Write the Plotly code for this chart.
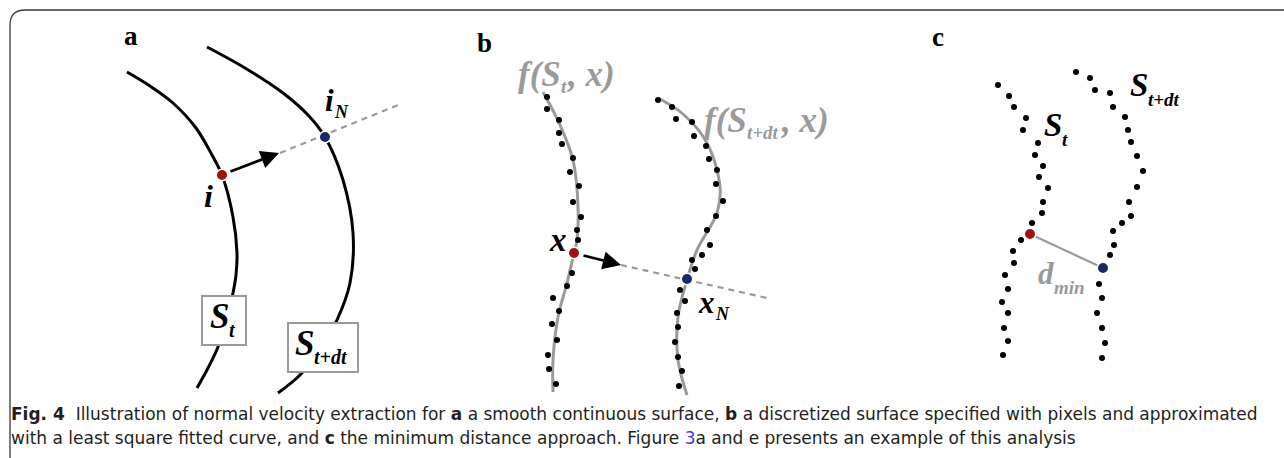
import plotly.graph_objects as go

W, H = 1284, 458

# ---------------- Panel a : smooth continuous surfaces ----------------
a_st_x = [127, 150, 173, 196, 212, 222, 233, 237, 236, 233, 226, 218, 208, 197]
a_st_y = [72, 86, 103, 128, 155, 175, 217, 253, 275, 293, 322, 347, 368, 388]
a_sdt_x = [207, 245, 283, 308, 325, 343, 353, 350, 337, 320, 300, 278]
a_sdt_y = [47, 68, 93, 115, 137, 180, 233, 283, 320, 350, 375, 393]
a_normal_x = [280, 398]
a_normal_y = [153, 105]
a_i = (222, 175)
a_iN = (325, 137)

# ---------------- Panel b : discretized surface + fitted curves ----------------
b_fit1_x = [543, 560, 573, 578, 577, 574, 567, 558, 553, 553]
b_fit1_y = [92, 125, 160, 207, 240, 253, 283, 317, 360, 392]
b_fit2_x = [658, 683, 707, 720, 717, 697, 687, 678, 678, 687]
b_fit2_y = [98, 114, 143, 187, 213, 250, 280, 317, 360, 395]
b_pix1_x = [547, 547, 559, 559, 562, 573, 570, 579, 573, 581, 577, 578,
            572, 567, 553, 559, 552, 557, 548, 549, 556]
b_pix1_y = [97, 109, 120, 133, 144, 158, 172, 186, 202, 217, 230, 240,
            273, 286, 298, 311, 324, 340, 355, 369, 384]
b_pix2_x = [658, 672, 676, 692, 694, 706, 709, 717, 716, 723, 716, 707,
            710, 702, 692, 695, 680, 685, 677, 678, 675, 678, 682, 679]
b_pix2_y = [100, 107, 119, 122, 136, 146, 159, 170, 184, 201, 216, 230,
            245, 255, 260, 269, 290, 301, 313, 327, 342, 357, 371, 386]
b_normal_x = [621, 767]
b_normal_y = [265, 298]
b_x = (574, 253)
b_xN = (687, 279)

# ---------------- Panel c : minimum distance approach ----------------
c_pix1_x = [998, 1009, 1014, 1026, 1023, 1038, 1035, 1043, 1039, 1048, 1043, 1042,
            1032, 1021, 1013, 1014, 1005, 1008, 1002, 1008, 1004, 1008, 1003]
c_pix1_y = [85, 96, 107, 118, 130, 143, 155, 166, 177, 188, 202, 213,
            223, 240, 251, 263, 275, 289, 302, 313, 328, 341, 355]
c_pix2_x = [1076, 1090, 1095, 1110, 1113, 1125, 1128, 1131, 1137, 1143, 1137, 1129,
            1131, 1122, 1113, 1114, 1110, 1099, 1102, 1097, 1102, 1105, 1102]
c_pix2_y = [72, 78, 90, 93, 107, 117, 130, 142, 156, 171, 187, 202,
            216, 223, 231, 245, 255, 284, 298, 313, 328, 343, 358]
c_red = (1030, 234)
c_blue = (1103, 268)

RED = "#9e1214"
BLUE = "#1b2767"
GRAY = "#9a9a9a"
SERIF = "Liberation Serif"

fig = go.Figure()


def line(x, y, color, width, dash=None, shape="spline"):
    fig.add_trace(go.Scatter(x=x, y=y, mode="lines",
                             line=dict(color=color, width=width, dash=dash, shape=shape,
                                       smoothing=1.0),
                             hoverinfo="skip", showlegend=False))


def dots(x, y, color="black", size=6, outline=0):
    fig.add_trace(go.Scatter(x=x, y=y, mode="markers",
                             marker=dict(color=color, size=size,
                                         line=dict(color="white", width=outline)),
                             hoverinfo="skip", showlegend=False))


# panel a
line(a_st_x, a_st_y, "black", 3)
line(a_sdt_x, a_sdt_y, "black", 3)
line(a_normal_x, a_normal_y, GRAY, 2.2, dash="6px,5px", shape="linear")
# panel b
line(b_fit1_x, b_fit1_y, GRAY, 3)
line(b_fit2_x, b_fit2_y, GRAY, 3)
line(b_normal_x, b_normal_y, GRAY, 2.2, dash="6px,5px", shape="linear")
dots(b_pix1_x, b_pix1_y)
dots(b_pix2_x, b_pix2_y)
# panel c
line([c_red[0], c_blue[0]], [c_red[1], c_blue[1]], GRAY, 2.2, shape="linear")
dots(c_pix1_x, c_pix1_y)
dots(c_pix2_x, c_pix2_y)

# highlighted points
dots([a_i[0], b_x[0], c_red[0]], [a_i[1], b_x[1], c_red[1]], RED, 11.5, 1.5)
dots([a_iN[0], b_xN[0], c_blue[0]], [a_iN[1], b_xN[1], c_blue[1]], BLUE, 11.5, 1.5)

shapes = [
    # frame
    dict(type="path", path="M 10,458 L 10,25 Q 10,10 25,10 L 1290,10",
         line=dict(color="#3a3a3a", width=1.3), layer="below"),
    # label boxes in panel a
    dict(type="rect", x0=202, y0=296, x1=246, y1=345,
         line=dict(color=GRAY, width=2), fillcolor="white", layer="above"),
    dict(type="rect", x0=288, y0=323, x1=358, y1=372,
         line=dict(color=GRAY, width=2), fillcolor="white", layer="above"),
]

ann = []


def txt(x, y, s, size, color="black", family=SERIF, xanchor="center"):
    ann.append(dict(x=x, y=y, xref="x", yref="y", text=s, showarrow=False,
                    xanchor=xanchor, yanchor="middle", borderpad=0,
                    font=dict(family=family, size=size, color=color)))


def bi(s):
    return "<b><i>" + s + "</i></b>"


def symbol(x_split, y_main, main, sub, size, sub_size, color="black", after=None, sub_w=0,
           sub_dy=None):
    """main text ends at x_split, subscript starts there, optional tail after it."""
    if sub_dy is None:
        sub_dy = 0.36 * size
    txt(x_split + 1, y_main, bi(main), size, color, xanchor="right")
    txt(x_split - 1, y_main + sub_dy, bi(sub), sub_size, color, xanchor="left")
    if after:
        txt(x_split + sub_w, y_main, bi(after), size, color, xanchor="left")


# panel letters
txt(131, 36, "<b>a</b>", 27)
txt(484, 43, "<b>b</b>", 27)
txt(938, 37, "<b>c</b>", 27)

# panel a labels
txt(208, 196, bi("i"), 32)
symbol(334, 100, "i", "N", 31, 18, sub_dy=12)
symbol(229, 316, "S", "t", 35, 20, sub_dy=14)
symbol(314, 343, "S", "t+dt", 35, 20, sub_dy=14)

# panel b labels
symbol(561, 74, "f(S", "t", 35, 19, GRAY, after=", x)", sub_w=5, sub_dy=12)
symbol(747, 120, "f(S", "t+dt", 35, 19, GRAY, after=", x)", sub_w=33, sub_dy=12)
txt(558, 240, bi("x"), 33)
symbol(715, 302, "x", "N", 31, 18, sub_dy=12)

# panel c labels
symbol(1062, 125, "S", "t", 33, 19, sub_dy=14)
symbol(1148, 85, "S", "t+dt", 33, 19, sub_dy=14)
symbol(1054, 273, "d", "min", 31, 19, GRAY, sub_dy=14)

# arrows
for (hx, hy, tx, ty) in [(279, 153, 229, 172), (621, 265, 582, 255)]:
    ann.append(dict(x=hx, y=hy, ax=tx, ay=ty, xref="x", yref="y", axref="x", ayref="y",
                    text="", showarrow=True, arrowhead=2, arrowsize=1.4,
                    arrowwidth=2.6, arrowcolor="black"))

# caption
CAP = "DejaVu Sans"
cap1 = ("<b>Fig. 4</b>  Illustration of normal velocity extraction for <b>a</b> a smooth continuous "
        "surface, <b>b</b> a discretized surface specified with pixels and approximated")
cap2 = ("with a least square fitted curve, and <b>c</b> the minimum distance approach. Figure "
        "<span style='color:#3b3bf0'>3</span>a and e presents an example of this analysis")
txt(10, 414, cap1, 17, "#231f20", CAP, xanchor="left")
txt(10, 438, cap2, 17, "#231f20", CAP, xanchor="left")

fig.update_layout(
    width=W, height=H, margin=dict(l=0, r=0, t=0, b=0),
    paper_bgcolor="white", plot_bgcolor="white",
    xaxis=dict(range=[0, W], visible=False, fixedrange=True),
    yaxis=dict(range=[H, 0], visible=False, fixedrange=True),
    shapes=shapes, annotations=ann, showlegend=False,
)

fig.write_html("out.html")
